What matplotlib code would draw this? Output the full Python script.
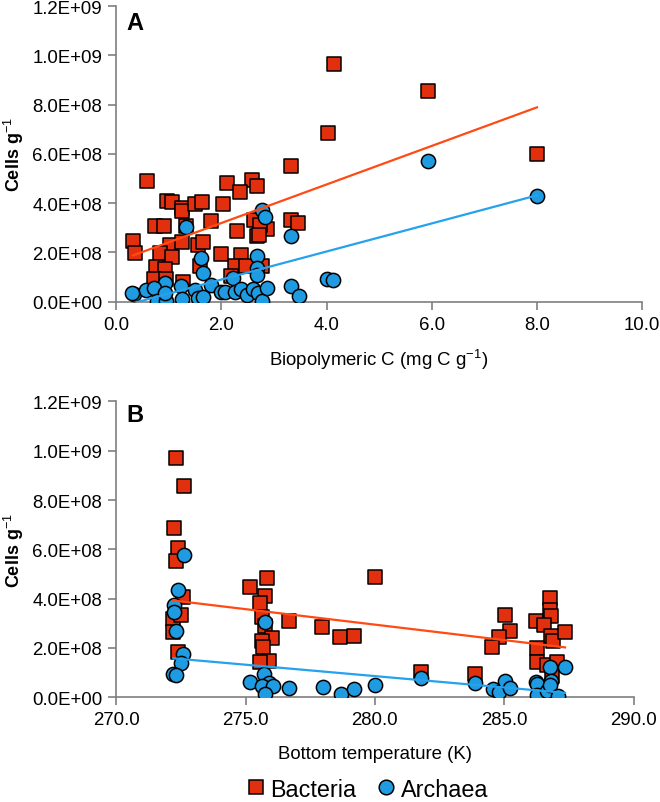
import matplotlib
matplotlib.use("Agg")
import matplotlib.pyplot as plt
import numpy as np
from matplotlib.lines import Line2D

plt.rcParams['font.family'] = ['Liberation Sans', 'DejaVu Sans']
plt.rcParams['mathtext.fontset'] = 'custom'
plt.rcParams['mathtext.rm'] = 'Liberation Sans'
plt.rcParams['mathtext.bf'] = 'Liberation Sans:bold'

# Panel A: biopolymeric C (mg C/g) vs cells (x1e8 per g)
a_bac_x = [4.14, 4.02, 3.33, 0.59, 2.11, 2.58, 2.68, 2.35, 0.97, 1.07, 1.25, 1.25, 1.49, 1.63,
           2.04, 1.81, 0.73, 0.91, 1.33, 2.62, 2.86, 2.68, 3.33, 3.46, 2.29, 0.32, 0.35, 1.03,
           1.25, 1.56, 1.66, 0.84, 1.07, 2.00, 2.37, 0.76, 0.93, 1.59, 2.25, 2.46, 2.77, 0.71,
           0.95, 1.27, 2.19, 5.93, 8.00, 2.74, 2.72]
a_bac_y = [9.65, 6.86, 5.50, 4.90, 4.84, 4.96, 4.69, 4.47, 4.08, 4.04, 3.80, 3.67, 3.97, 4.04,
           3.97, 3.29, 3.09, 3.09, 3.09, 3.32, 2.95, 2.66, 3.32, 3.20, 2.86, 2.48, 1.98, 2.30,
           2.41, 2.30, 2.44, 1.98, 1.80, 1.94, 1.90, 1.40, 1.33, 1.46, 1.46, 1.46, 1.46, 0.92,
           0.92, 0.81, 1.06, 8.54, 6.00, 3.10, 2.70]
a_arc_x = [2.77, 2.83, 2.67, 2.68, 2.67, 1.33, 3.33, 1.62, 1.66, 0.93, 2.22, 0.34, 0.57, 0.72,
           0.77, 0.95, 0.92, 1.24, 1.26, 1.49, 1.56, 1.66, 1.80, 2.00, 2.06, 2.25, 2.37, 2.48,
           2.60, 2.70, 2.77, 2.86, 3.33, 3.47, 5.93, 8.00, 4.00, 4.13, 0.30]
a_arc_y = [3.74, 3.43, 1.87, 1.36, 1.08, 3.02, 2.66, 1.76, 1.17, 0.76, 0.95, 0.31, 0.47, 0.54,
           0.04, 0.04, 0.35, 0.65, 0.11, 0.49, 0.14, 0.20, 0.68, 0.41, 0.41, 0.38, 0.51, 0.27,
           0.51, 0.35, 0.04, 0.54, 0.65, 0.24, 5.73, 4.31, 0.92, 0.89, 0.35]
a_bac_fit = (0.783, 1.63)   # slope, intercept (x1e8)
a_arc_fit = (0.57, -0.24)

# Panel B: bottom temperature (K) vs cells (x1e8 per g)
b_bac_x = [272.31, 272.64, 272.25, 272.40, 272.31, 272.60, 272.20, 272.50, 272.21, 272.40,
           275.17, 275.82, 275.74, 275.56, 275.65, 275.74, 276.04, 275.65, 275.69, 275.91,
           275.56, 276.69, 277.96, 278.64, 279.19, 280.00, 281.80, 283.87, 285.03, 285.23,
           284.81, 284.53, 286.22, 286.77, 286.77, 286.82, 286.54, 286.79, 286.88, 287.35,
           286.28, 286.28, 286.67, 287.05, 286.86]
b_bac_y = [9.69, 8.58, 6.86, 6.04, 5.51, 4.05, 3.18, 3.34, 2.64, 1.82,
           4.46, 4.84, 4.09, 3.82, 3.24, 2.91, 2.39, 2.30, 2.03, 1.49,
           1.42, 3.11, 2.86, 2.43, 2.50, 4.89, 1.01, 0.95, 3.35, 2.70,
           2.43, 2.03, 3.11, 4.01, 3.55, 3.28, 2.93, 2.47, 2.30, 2.64,
           1.99, 1.45, 1.31, 1.42, 0.88]
b_arc_x = [272.64, 272.40, 272.25, 272.25, 272.30, 272.60, 272.49, 272.21, 272.30,
           275.75, 275.17, 275.71, 275.91, 275.62, 276.06, 275.74, 276.69, 277.99, 278.68,
           279.19, 280.00, 281.80, 283.87, 284.55, 284.81, 285.03, 285.23, 286.22, 286.28,
           286.28, 286.67, 286.77, 286.79, 286.77, 287.08, 287.35]
b_arc_y = [5.77, 4.35, 3.74, 3.45, 2.68, 1.76, 1.38, 0.95, 0.91,
           3.04, 0.61, 0.95, 0.58, 0.45, 0.45, 0.14, 0.36, 0.43, 0.14,
           0.34, 0.51, 0.77, 0.58, 0.34, 0.23, 0.68, 0.36, 0.64, 0.54,
           0.09, 0.27, 1.22, 0.68, 0.50, 0.07, 1.24]
b_bac_fit = (-0.1256, 3.92 + 0.1256 * 272.25)
b_arc_fit = (-0.0924, 1.58 + 0.0924 * 272.2)

yticks = [0, 2e8, 4e8, 6e8, 8e8, 1e9, 1.2e9]
ytick_labels = ['0.0E+00', '2.0E+08', '4.0E+08', '6.0E+08', '8.0E+08', '1.0E+09', '1.2E+09']
a_xticks = [0, 2, 4, 6, 8, 10]
b_xticks = [270, 275, 280, 285, 290]

BAC_FILL = '#E2300F'
ARC_FILL = '#1F9BE2'
BAC_LINE = '#FF4A14'
ARC_LINE = '#25A2EE'
SPINE = '#7F7F7F'

fig = plt.figure(figsize=(6.6, 8.03), dpi=100)
axA = fig.add_axes([0.176, 0.623, 0.797, 0.368])
axB = fig.add_axes([0.176, 0.1304, 0.784, 0.3685])


def style(ax, xticks, fmt):
    for s in ['top', 'right']:
        ax.spines[s].set_visible(False)
    for s in ['left', 'bottom']:
        ax.spines[s].set_color(SPINE)
        ax.spines[s].set_linewidth(1.2)
    ax.set_yticks(yticks)
    ax.set_yticklabels(ytick_labels)
    ax.set_ylim(0, 1.2e9)
    ax.set_xticks(xticks)
    ax.set_xticklabels([fmt.format(v) for v in xticks])
    ax.set_xlim(xticks[0], xticks[-1])
    ax.tick_params(axis='both', colors=SPINE, labelcolor='black', labelsize=13.4,
                   length=6, width=1.2, direction='out', pad=4)
    ax.set_ylabel('Cells g$^{-1}$', fontsize=13, fontweight='bold', labelpad=4)


def plot_panel(ax, bx, by, axx, ay, bfit, afit):
    bx = np.array(bx); by = np.array(by) * 1e8
    axx = np.array(axx); ay = np.array(ay) * 1e8
    ax.scatter(bx, by, marker='s', s=95, c=BAC_FILL, edgecolors='black', linewidths=1.1, zorder=3)
    ax.scatter(axx, ay, marker='o', s=105, c=ARC_FILL, edgecolors='black', linewidths=1.1, zorder=4)
    xs = np.array([bx.min(), bx.max()])
    ax.plot(xs, (bfit[0] * xs + bfit[1]) * 1e8, color=BAC_LINE, lw=1.6, zorder=5)
    xs = np.array([axx.min(), axx.max()])
    ax.plot(xs, (afit[0] * xs + afit[1]) * 1e8, color=ARC_LINE, lw=1.6, zorder=5)


plot_panel(axA, a_bac_x, a_bac_y, a_arc_x, a_arc_y, a_bac_fit, a_arc_fit)
style(axA, a_xticks, '{:.1f}')
axA.set_xlabel('Biopolymeric C (mg C g$^{-1}$)', fontsize=13.4, labelpad=10)
axA.text(0.02, 0.985, 'A', transform=axA.transAxes, fontsize=17, fontweight='bold', va='top')

plot_panel(axB, b_bac_x, b_bac_y, b_arc_x, b_arc_y, b_bac_fit, b_arc_fit)
style(axB, b_xticks, '{:.1f}')
axB.set_xlabel('Bottom temperature (K)', fontsize=13.4, labelpad=12)
axB.text(0.02, 0.995, 'B', transform=axB.transAxes, fontsize=17, fontweight='bold', va='top')

handles = [Line2D([], [], marker='s', ls='none', markersize=10.5, markerfacecolor=BAC_FILL,
                  markeredgecolor='black', markeredgewidth=1.1, label='Bacteria'),
           Line2D([], [], marker='o', ls='none', markersize=10.5, markerfacecolor=ARC_FILL,
                  markeredgecolor='black', markeredgewidth=1.1, label='Archaea')]
fig.legend(handles=handles, loc='center', bbox_to_anchor=(0.553, 0.016), ncol=2, frameon=False,
           fontsize=16.8, handletextpad=0.0, columnspacing=0.7, handlelength=1.2)

fig.savefig('out.png', dpi=100)
